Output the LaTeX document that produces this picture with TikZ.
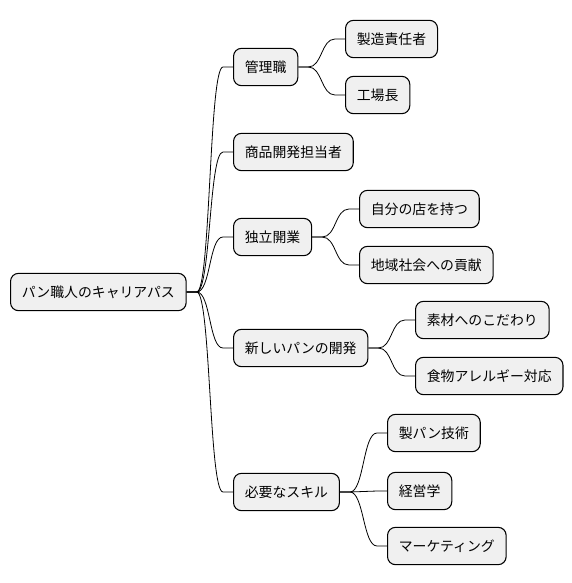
\documentclass[tikz,border=0pt]{standalone}
\usepackage{fontspec}
\setmainfont{Noto Sans CJK JP}
\usepackage{tikz}
\usetikzlibrary{calc}

\begin{document}
\begin{tikzpicture}[
        x=0.75pt, y=-0.75pt,
        base/.style={
            draw, anchor=west, minimum height=28pt, inner xsep=8.5pt,
            font=\fontsize{10.4}{12}\selectfont, rounded corners=6pt, line width=0.8pt,
            fill=black!6
        },
        root/.style={base},
        lvl/.style={base},
        leaf/.style={base},
        branch/.style={line width=0.6pt}
    ]
        \useasboundingbox (0,0) rectangle (572,583);

        % Nodes
        \node[root] (career) at (10,292) {パン職人のキャリアパス};

        \node[lvl] (mgr) at (233,67) {管理職};
        \node[lvl] (dev) at (233,152) {商品開発担当者};
        \node[lvl] (indep) at (233,237) {独立開業};
        \node[lvl] (newbread) at (233,348) {新しいパンの開発};
        \node[lvl] (skills) at (233,492) {必要なスキル};

        \node[leaf] (prodlead) at (345,39) {製造責任者};
        \node[leaf] (factory) at (345,95) {工場長};
        \node[leaf] (ownshop) at (359,209) {自分の店を持つ};
        \node[leaf] (community) at (359,265) {地域社会への貢献};
        \node[leaf] (material) at (415,320) {素材へのこだわり};
        \node[leaf] (allergy) at (415,376) {食物アレルギー対応};
        \node[leaf] (baking) at (387,433) {製パン技術};
        \node[leaf] (business) at (387,491) {経営学};
        \node[leaf] (marketing) at (387,546) {マーケティング};

        % Connectors
        \draw[branch] (career.east) -- ++(10,0) .. controls +(14,0) and +(-14,0) .. ($(mgr.west)+(-10,0)$) -- (mgr.west);
        \draw[branch] (career.east) -- ++(10,0) .. controls +(14,0) and +(-14,0) .. ($(dev.west)+(-10,0)$) -- (dev.west);
        \draw[branch] (career.east) -- ++(10,0) .. controls +(14,0) and +(-14,0) .. ($(indep.west)+(-10,0)$) -- (indep.west);
        \draw[branch] (career.east) -- ++(10,0) .. controls +(14,0) and +(-14,0) .. ($(newbread.west)+(-10,0)$) -- (newbread.west);
        \draw[branch] (career.east) -- ++(10,0) .. controls +(14,0) and +(-14,0) .. ($(skills.west)+(-10,0)$) -- (skills.west);

        \draw[branch] (mgr.east) -- ++(10,0) .. controls +(14,0) and +(-14,0) .. ($(prodlead.west)+(-10,0)$) -- (prodlead.west);
        \draw[branch] (mgr.east) -- ++(10,0) .. controls +(14,0) and +(-14,0) .. ($(factory.west)+(-10,0)$) -- (factory.west);

        \draw[branch] (indep.east) -- ++(10,0) .. controls +(14,0) and +(-14,0) .. ($(ownshop.west)+(-10,0)$) -- (ownshop.west);
        \draw[branch] (indep.east) -- ++(10,0) .. controls +(14,0) and +(-14,0) .. ($(community.west)+(-10,0)$) -- (community.west);

        \draw[branch] (newbread.east) -- ++(10,0) .. controls +(14,0) and +(-14,0) .. ($(material.west)+(-10,0)$) -- (material.west);
        \draw[branch] (newbread.east) -- ++(10,0) .. controls +(14,0) and +(-14,0) .. ($(allergy.west)+(-10,0)$) -- (allergy.west);

        \draw[branch] (skills.east) -- ++(10,0) .. controls +(14,0) and +(-14,0) .. ($(baking.west)+(-10,0)$) -- (baking.west);
        \draw[branch] (skills.east) -- ++(10,0) .. controls +(14,0) and +(-14,0) .. ($(business.west)+(-10,0)$) -- (business.west);
        \draw[branch] (skills.east) -- ++(10,0) .. controls +(14,0) and +(-14,0) .. ($(marketing.west)+(-10,0)$) -- (marketing.west);

\end{tikzpicture}
\end{document}
